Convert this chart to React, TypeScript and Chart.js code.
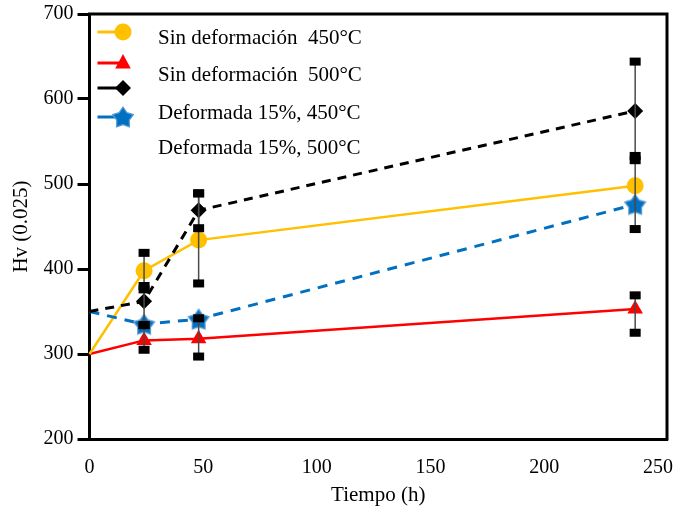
import React, { useEffect, useRef } from 'react';
import { Chart, registerables } from 'chart.js';

Chart.register(...registerables);

// ---- data ----
const hours = [0, 24, 48, 240];
const sinDef450 = [300, 398, 434, 498];
const sinDef500 = [300, 316, 318, 353];
const def15_450 = [350, 362, 469, 586];
const def15_500 = [350, 335, 341, 476];

const errHours = [24, 48, 240];
const sinDef450Low = [376, 383, 447];
const sinDef450High = [419, 489, 533];
const sinDef500Low = [305, 297, 325];
const sinDef500High = [334, 342, 369];
const def15_450Low = [334, 448, 528];
const def15_450High = [380, 489, 644];

const xTicks = [0, 50, 100, 150, 200, 250];
const yTicks = [200, 300, 400, 500, 600, 700];

const labels = [
  'Sin deformación  450°C',
  'Sin deformación  500°C',
  'Deformada 15%, 450°C',
  'Deformada 15%, 500°C',
];

const YELLOW = '#FFC000';
const RED = '#FF0000';
const BLACK = '#000000';
const BLUE = '#0070C0';
const FONT = "'Liberation Serif', 'Times New Roman', serif";

function makeStar(r: number) {
  const c = document.createElement('canvas');
  const s = Math.ceil(r * 2 + 4);
  c.width = s;
  c.height = s;
  const ctx = c.getContext('2d')!;
  const cx = s / 2;
  const cy = s / 2 + 1;
  ctx.beginPath();
  for (let i = 0; i < 10; i++) {
    const rr = i % 2 === 0 ? r : r * 0.6;
    const a = -Math.PI / 2 + (i * Math.PI) / 5;
    ctx.lineTo(cx + rr * Math.cos(a), cy + rr * Math.sin(a));
  }
  ctx.closePath();
  ctx.fillStyle = BLUE;
  ctx.fill();
  ctx.strokeStyle = '#5B9BD5';
  ctx.lineWidth = 1.2;
  ctx.stroke();
  return c;
}

function drawMarker(ctx: CanvasRenderingContext2D, kind: string, x: number, y: number, star: HTMLCanvasElement) {
  ctx.save();
  if (kind === 'circle') {
    ctx.fillStyle = YELLOW;
    ctx.beginPath();
    ctx.arc(x, y, 8.5, 0, Math.PI * 2);
    ctx.fill();
  } else if (kind === 'triangle') {
    const r = 9;
    ctx.fillStyle = RED;
    ctx.beginPath();
    ctx.moveTo(x, y - r);
    ctx.lineTo(x + r * Math.sin(Math.PI / 3), y + r / 2 + 1);
    ctx.lineTo(x - r * Math.sin(Math.PI / 3), y + r / 2 + 1);
    ctx.closePath();
    ctx.fill();
  } else if (kind === 'diamond') {
    const r = 8;
    ctx.fillStyle = BLACK;
    ctx.beginPath();
    ctx.moveTo(x - r, y);
    ctx.lineTo(x, y - r);
    ctx.lineTo(x + r, y);
    ctx.lineTo(x, y + r);
    ctx.closePath();
    ctx.fill();
  } else {
    ctx.drawImage(star, x - star.width / 2, y - star.height / 2);
  }
  ctx.restore();
}

export default function App() {
  const ref = useRef<HTMLCanvasElement | null>(null);

  useEffect(() => {
    if (!ref.current) return;
    const star = makeStar(11);
    const mk = (arr: number[]) => hours.map((h, i) => ({ x: h, y: arr[i] }));
    const radii = (r: number) => hours.map((h) => (h === 0 ? 0 : r));

    const errGroups = [
      [sinDef450Low, sinDef450High],
      [sinDef500Low, sinDef500High],
      [def15_450Low, def15_450High],
    ];

    const decor = {
      id: 'decor',
      afterDatasetsDraw(chart: any) {
        const { ctx, scales } = chart;
        const xs = scales.x;
        const ys = scales.y;
        ctx.save();
        ctx.strokeStyle = '#4a4a4a';
        ctx.lineWidth = 1.5;
        errGroups.forEach(([lo, hi]) => {
          errHours.forEach((h, i) => {
            const px = xs.getPixelForValue(h);
            ctx.beginPath();
            ctx.moveTo(px, ys.getPixelForValue(lo[i]));
            ctx.lineTo(px, ys.getPixelForValue(hi[i]));
            ctx.stroke();
          });
        });
        ctx.fillStyle = '#000';
        errGroups.forEach(([lo, hi]) => {
          errHours.forEach((h, i) => {
            const px = xs.getPixelForValue(h);
            [lo[i], hi[i]].forEach((v) => {
              const py = ys.getPixelForValue(v);
              ctx.fillRect(px - 5.5, py - 4, 11, 8);
            });
          });
        });
        ctx.restore();
      },
      afterDraw(chart: any) {
        const { ctx, chartArea } = chart;
        const { left, top, right, bottom } = chartArea;
        ctx.save();
        ctx.strokeStyle = '#000';
        ctx.lineWidth = 3;
        ctx.beginPath();
        ctx.moveTo(left - 1.5, top);
        ctx.lineTo(right, top);
        ctx.lineTo(right, bottom + 1.5);
        ctx.stroke();

        // legend
        const kinds = ['circle', 'triangle', 'diamond', 'star'];
        const colors = [YELLOW, RED, BLACK, BLUE];
        const markerY = [18, 49, 74, 103];
        const textY = [24, 61, 99, 134];
        kinds.forEach((k, i) => {
          const y = top + markerY[i];
          ctx.strokeStyle = colors[i];
          ctx.lineWidth = 3;
          ctx.beginPath();
          ctx.moveTo(left + 8, y);
          ctx.lineTo(left + 30, y);
          ctx.stroke();
          drawMarker(ctx, k, left + 33.5, y, star);
        });
        ctx.fillStyle = '#000';
        ctx.font = `21px ${FONT}`;
        ctx.textBaseline = 'middle';
        ctx.textAlign = 'left';
        labels.forEach((t, i) => {
          ctx.fillText(t, left + 68.5, top + textY[i]);
        });
        ctx.restore();
      },
    };

    const chart = new Chart(ref.current, {
      type: 'line',
      data: {
        datasets: [
          {
            label: labels[0],
            data: mk(sinDef450),
            borderColor: YELLOW,
            backgroundColor: YELLOW,
            borderWidth: 2.5,
            pointStyle: 'circle',
            pointRadius: radii(8.5),
            pointBorderWidth: 0,
            clip: false,
            order: 3,
          },
          {
            label: labels[1],
            data: mk(sinDef500),
            borderColor: RED,
            backgroundColor: RED,
            borderWidth: 2.5,
            pointStyle: 'triangle',
            pointRadius: radii(9),
            pointBorderWidth: 0,
            clip: false,
            order: 4,
          },
          {
            label: labels[2],
            data: mk(def15_450),
            borderColor: BLACK,
            backgroundColor: BLACK,
            borderWidth: 3,
            borderDash: [9, 7],
            pointStyle: 'rectRot',
            pointRadius: radii(8),
            pointBorderWidth: 0,
            clip: false,
            order: 1,
          },
          {
            label: labels[3],
            data: mk(def15_500),
            borderColor: BLUE,
            backgroundColor: BLUE,
            borderWidth: 3,
            borderDash: [10, 8],
            pointStyle: hours.map((h) => (h === 0 ? 'circle' : star)) as any,
            pointRadius: radii(11),
            pointBorderWidth: 0,
            clip: false,
            order: 2,
          },
        ],
      },
      options: {
        animation: false,
        responsive: false,
        devicePixelRatio: 1,
        layout: { autoPadding: false, padding: { top: 14, right: 6, left: 0, bottom: 0 } },
        plugins: { legend: { display: false }, tooltip: { enabled: false } },
        elements: { line: { tension: 0 } },
        scales: {
          x: {
            type: 'linear',
            min: 0,
            max: 254,
            afterBuildTicks: (s: any) => {
              s.ticks = xTicks.map((v) => ({ value: v }));
            },
            afterFit: (s: any) => {
              s.height = 69;
              s.paddingLeft = 0;
              s.paddingRight = 0;
            },
            grid: { display: false, drawTicks: false },
            border: { display: true, color: '#000', width: 3 },
            ticks: { color: '#000', font: { family: FONT, size: 20 }, padding: 17, maxRotation: 0 },
            title: {
              display: true,
              text: 'Tiempo (h)',
              color: '#000',
              font: { family: FONT, size: 21 },
              padding: { top: 0, bottom: 0 },
            },
          },
          y: {
            type: 'linear',
            min: 200,
            max: 700,
            afterBuildTicks: (s: any) => {
              s.ticks = yTicks.map((v) => ({ value: v }));
            },
            afterFit: (s: any) => {
              s.width = 89.5;
              s.paddingTop = 0;
              s.paddingBottom = 0;
            },
            grid: {
              drawOnChartArea: false,
              drawTicks: true,
              tickLength: 12,
              tickWidth: 3,
              tickColor: '#000',
              color: '#000',
            },
            border: { display: true, color: '#000', width: 3 },
            ticks: { color: '#000', font: { family: FONT, size: 20 }, padding: 4 },
            title: {
              display: true,
              text: 'Hv (0.025)',
              color: '#000',
              font: { family: FONT, size: 21 },
              padding: { top: 9, bottom: 0 },
            },
          },
        },
      },
      plugins: [decor],
    } as any);
    return () => chart.destroy();
  }, []);

  return (
    <div style={{ position: 'absolute', left: 0, top: 0, width: 673, height: 508, background: '#fff' }}>
      <canvas ref={ref} width={673} height={508} style={{ width: 673, height: 508, display: 'block' }} />
    </div>
  );
}
